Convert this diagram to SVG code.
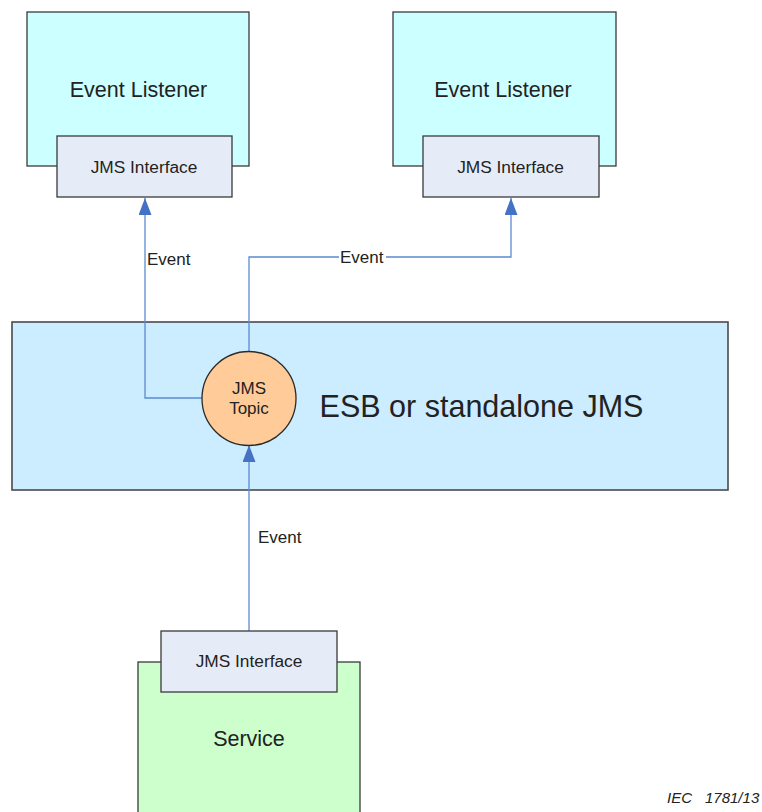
<svg xmlns="http://www.w3.org/2000/svg" width="762" height="812" viewBox="0 0 762 812">
<style>
  .box { stroke: #3a3a3a; stroke-width: 1.3; }
  .listener { fill: #CCFFFF; }
  .iface { fill: #E6ECF7; }
  .service { fill: #CCFFCC; }
  .esb { fill: #CCECFF; stroke: #4a4a4a; stroke-width: 1.6; }
  .topic { fill: #FFCC99; stroke: #2a2a2a; stroke-width: 1.3; }
  .t { font-family: "Liberation Sans", Arial, sans-serif; fill: #222; text-anchor: middle; }
  .conn { fill: none; stroke: #5B8BD0; stroke-width: 1.3; }
  .lbl { font-family: "Liberation Sans", Arial, sans-serif; fill: #222; font-size: 17px; }
  .cap { font-family: "Liberation Sans", Arial, sans-serif; font-style: italic; font-size: 15px; fill: #222; }
</style>
<defs>
  <marker id="arr" viewBox="0 0 17 13" refX="17" refY="6.5" markerWidth="17" markerHeight="13" markerUnits="userSpaceOnUse" orient="auto">
    <path d="M0 0 L17 6.5 L0 13 Z" fill="#4472C4"/>
  </marker>
</defs>
<rect width="762" height="812" fill="#ffffff"/>

<g id="esb">
  <rect class="esb" x="12" y="322" width="716" height="168"/>
  <text class="t" x="481.5" y="417" font-size="30.5">ESB or standalone JMS</text>
</g>

<g id="connectors">
  <path class="conn" d="M202 398 H145 V198" marker-end="url(#arr)"/>
  <path class="conn" d="M249 352 V257 H511 V198" marker-end="url(#arr)"/>
  <path class="conn" d="M249 631 V445" marker-end="url(#arr)"/>
  <rect x="339" y="248" width="47" height="18" fill="#ffffff"/>
  <text class="lbl" x="147" y="265">Event</text>
  <text class="lbl" x="340" y="263">Event</text>
  <text class="lbl" x="258" y="543">Event</text>
</g>

<g id="listener1">
  <rect class="box listener" x="27" y="12" width="222" height="154"/>
  <text class="t" x="138.5" y="97" font-size="21.5">Event Listener</text>
  <g id="iface1">
    <rect class="box iface" x="57" y="136" width="175" height="61"/>
    <text class="t" x="144" y="173" font-size="17.3">JMS Interface</text>
  </g>
</g>

<g id="listener2">
  <rect class="box listener" x="393" y="12" width="223" height="154"/>
  <text class="t" x="503" y="97" font-size="21.5">Event Listener</text>
  <g id="iface2">
    <rect class="box iface" x="423" y="136" width="176" height="61"/>
    <text class="t" x="510.5" y="173" font-size="17.3">JMS Interface</text>
  </g>
</g>

<g id="topic">
  <circle class="topic" cx="249" cy="398.5" r="47"/>
  <text class="t" x="249" y="394" font-size="17">JMS</text>
  <text class="t" x="249" y="413.5" font-size="17">Topic</text>
</g>

<g id="service">
  <rect class="box service" x="138" y="662" width="222" height="160"/>
  <text class="t" x="249" y="746" font-size="21.5">Service</text>
  <g id="iface3">
    <rect class="box iface" x="161" y="631" width="176" height="61"/>
    <text class="t" x="249" y="667" font-size="17.3">JMS Interface</text>
  </g>
</g>

<g id="caption">
  <text class="cap" x="667" y="803">IEC</text>
  <text class="cap" x="705" y="803">1781/13</text>
</g>
</svg>
